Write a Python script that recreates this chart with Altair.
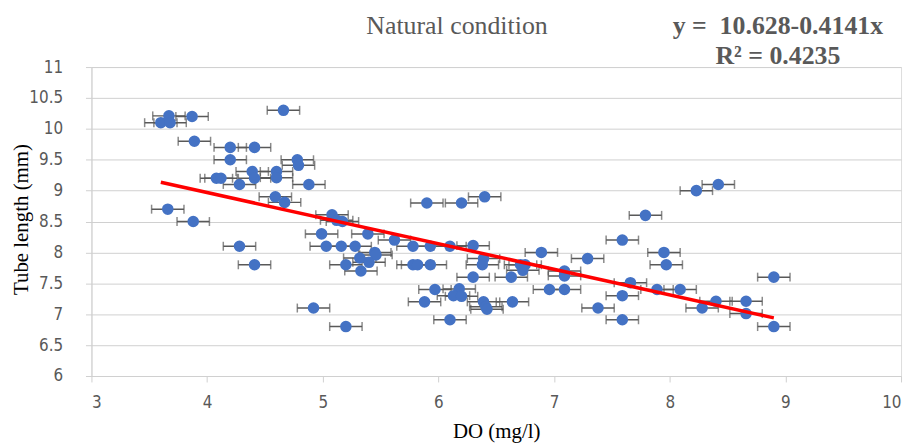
import altair as alt
import pandas as pd

DO = [3.60, 3.67, 3.68, 3.87, 4.66, 3.89, 4.20, 4.41, 4.20, 4.78, 4.79,
      4.39, 4.41, 4.60, 4.60, 4.08, 4.12, 4.28, 4.88, 4.59, 4.67, 3.66, 3.88,
      4.28, 4.41, 5.08, 5.12, 5.17, 4.99, 5.03, 5.16, 5.20, 4.92, 5.20,
      5.90, 6.20, 6.40, 5.39, 5.62, 5.28, 5.78, 5.93, 6.10, 6.30,
      5.45, 5.46, 5.32, 5.40, 5.33, 5.78, 5.82, 5.93, 6.39, 6.38,
      6.71, 6.75, 6.73, 6.30, 6.63, 6.89, 6.96, 5.97, 6.18, 6.13, 6.20,
      5.88, 6.39, 6.41, 6.42, 6.64, 6.10,
      8.23, 8.42, 7.79, 7.59, 7.29, 7.95, 7.97, 7.09, 7.09, 7.09,
      7.66, 7.89, 8.09, 7.59, 7.38, 7.59, 8.90, 8.40, 8.66, 8.28, 8.66, 8.90]
TL = [10.10, 10.21, 10.10, 10.20, 10.30, 9.80, 9.70, 9.70, 9.50, 9.50, 9.41,
      9.31, 9.20, 9.31, 9.21, 9.20, 9.20, 9.10, 9.10, 8.90, 8.81, 8.70, 8.50,
      8.10, 7.80, 8.61, 8.52, 8.50, 8.30, 8.10, 8.10, 7.80, 7.10, 6.80,
      8.80, 8.80, 8.90, 8.30, 8.20, 8.10, 8.10, 8.10, 8.10, 8.11,
      8.00, 7.96, 7.91, 7.84, 7.70, 7.80, 7.80, 7.80, 7.90, 7.80,
      7.80, 7.80, 7.71, 7.60, 7.60, 8.00, 7.40, 7.40, 7.41, 7.30, 7.29,
      7.20, 7.20, 7.12, 7.08, 7.20, 6.91,
      9.00, 9.10, 8.60, 8.20, 7.90, 8.00, 7.80, 7.70, 7.62, 7.40,
      7.51, 7.40, 7.40, 7.30, 7.10, 6.91, 7.60, 7.21, 7.21, 7.10, 7.01, 6.80]
DO_ERR = 0.14

TREND_X = [3.6, 8.9]
TREND_Y = [9.135, 6.94]

X_TICKS = [3, 4, 5, 6, 7, 8, 9, 10]
Y_TICKS = [6, 6.5, 7, 7.5, 8, 8.5, 9, 9.5, 10, 10.5, 11]

TITLE = "Natural condition"
EQ1 = "y = \u00a010.628-0.4141x"
EQ2 = "R\u00b2 = 0.4235"

df = pd.DataFrame({"DO": DO, "TL": TL})
df["lo"] = df["DO"] - DO_ERR
df["hi"] = df["DO"] + DO_ERR
trend = pd.DataFrame({"DO": TREND_X, "TL": TREND_Y})

GRAY_TXT = "#595959"
LINE = "#d0d0d0"
LABEL_FONT = "Liberation Sans Narrow, DejaVu Sans Condensed, sans-serif"

xscale = alt.Scale(domain=[3, 10], nice=False, zero=False)
yscale = alt.Scale(domain=[6, 11], nice=False, zero=False)

xaxis = alt.Axis(values=X_TICKS, format="~r", grid=False, title="DO (mg/l)", domainColor=LINE,
                 tickColor=LINE, tickSize=6, labelPadding=13, labelFont=LABEL_FONT,
                 labelFontSize=17, labelColor=GRAY_TXT, labelOverlap=False,
                 titleFont="Liberation Serif",
                 titleFontSize=21, titleFontWeight="normal", titleColor="#000000",
                 titleBaseline="alphabetic", titleY=62)
yaxis = alt.Axis(values=Y_TICKS, format="~r", grid=True, gridColor=LINE, title="Tube length (mm)",
                 domainColor=LINE, tickColor=LINE, tickSize=6, labelPadding=23,
                 labelFont=LABEL_FONT, labelFontSize=17, labelColor=GRAY_TXT,
                 labelOverlap=False,
                 titleFont="Liberation Serif", titleFontSize=21, titleFontWeight="normal",
                 titleColor="#000000", titleBaseline="alphabetic", titleX=-64, titleY=153,
                 titleAngle=270)


def X(field):
    return alt.X(field, type="quantitative", scale=xscale, axis=xaxis)


def Y(field):
    return alt.Y(field, type="quantitative", scale=yscale, axis=yaxis)


base = alt.Chart(df)

bars = base.mark_rule(color="#595959", strokeWidth=1.5).encode(
    x=X("lo"), x2="hi:Q", y=Y("TL"))
cap_lo = base.mark_tick(color="#595959", orient="vertical", size=9, thickness=1.5).encode(
    x=X("lo"), y=Y("TL"))
cap_hi = base.mark_tick(color="#595959", orient="vertical", size=9, thickness=1.5).encode(
    x=X("hi"), y=Y("TL"))
points = base.mark_circle(size=135, color="#4472C4", opacity=1).encode(
    x=X("DO"), y=Y("TL"))
line = alt.Chart(trend).mark_line(color="#ff0000", strokeWidth=3.5).encode(
    x=X("DO"), y=Y("TL"))

title_t = alt.Chart(pd.DataFrame({"t": [TITLE]})).mark_text(
    font="Liberation Serif", fontSize=26, color=GRAY_TXT,
    align="center", baseline="alphabetic").encode(text="t:N", x=alt.value(368), y=alt.value(-33))
eq1 = alt.Chart(pd.DataFrame({"t": [EQ1]})).mark_text(
    font="Liberation Serif", fontSize=26, fontWeight="bold", color=GRAY_TXT,
    align="center", baseline="alphabetic").encode(text="t:N", x=alt.value(691), y=alt.value(-33))
eq2 = alt.Chart(pd.DataFrame({"t": [EQ2]})).mark_text(
    font="Liberation Serif", fontSize=26, fontWeight="bold", color=GRAY_TXT,
    align="center", baseline="alphabetic").encode(text="t:N", x=alt.value(691), y=alt.value(-3))

chart = alt.layer(bars, cap_lo, cap_hi, points, line, title_t, eq1, eq2).properties(
    width=815, height=311,
    autosize=alt.AutoSizeParams(type="none"),
    padding={"left": 84, "top": 58, "right": 7, "bottom": 68},
).configure_view(strokeWidth=0).configure(background="white")

chart.save("out.html", embed_options={"renderer": "svg", "actions": False})
